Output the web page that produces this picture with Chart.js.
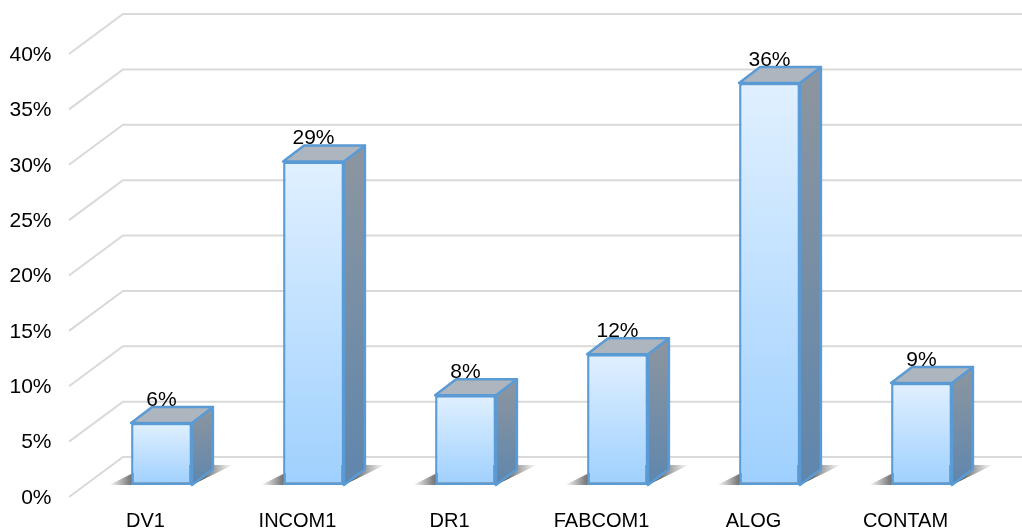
<!DOCTYPE html>
<html>
<head>
<meta charset="utf-8">
<title>Chart</title>
<script src="https://cdn.jsdelivr.net/npm/chart.js@4/dist/chart.umd.min.js"></script>
<style>
    html, body { margin: 0; padding: 0; background: #ffffff; }
    canvas { display: block; }
</style>
</head>
<body>
<canvas id="myChart" width="1022" height="528"></canvas>
<script>
const categories = ["DV1", "INCOM1", "DR1", "FABCOM1", "ALOG", "CONTAM"];
const errorShare = [0.056, 0.292, 0.081, 0.118, 0.363, 0.092];
const tickValues = [0, 0.05, 0.1, 0.15, 0.2, 0.25, 0.3, 0.35, 0.4];

const fontName = "'Liberation Sans', Arial, sans-serif";
const fontSize = 21;
const pct = (v) => Math.round(v * 100) + "%";

// ---------------------- wall and floor lines ----------------------
const wallGrid = {
    id: "wallGrid",
    beforeDatasetsDraw(chart) {
        const c = chart.ctx;
        const y = chart.scales.y;
        c.save();
        c.strokeStyle = "#d9d9d9";
        c.lineWidth = 2;
        tickValues.forEach(v => {
            const p = y.getPixelForValue(v);
            c.beginPath();
            c.moveTo(69, p + 12);
            c.lineTo(123, p - 28);
            c.lineTo(1022, p - 28);
            c.stroke();
        });
        c.restore();
    }
};

// ---------------------- shadow, side and top of each bar ----------------------
const barDepth = {
    id: "barDepth",
    beforeDatasetsDraw(chart) {
        const c = chart.ctx;
        const dx = 21, dy = 16;
        chart.getDatasetMeta(0).data.forEach(bar => {
            const l = bar.x - bar.width / 2;
            const r = bar.x + bar.width / 2;
            const t = bar.y;
            const b = bar.base;

            const sh = c.createLinearGradient(l - 22, 0, r + 41, 0);
            sh.addColorStop(0, "rgba(70,70,70,0)");
            sh.addColorStop(0.2, "rgba(70,70,70,0.85)");
            sh.addColorStop(0.72, "rgba(60,60,60,0.9)");
            sh.addColorStop(1, "rgba(80,80,80,0)");
            c.fillStyle = sh;
            c.beginPath();
            c.moveTo(l - 22, b);
            c.lineTo(r, b);
            c.lineTo(r + 41, b - 20);
            c.lineTo(l + 18, b - 20);
            c.closePath();
            c.fill();

            const side = c.createLinearGradient(0, t - dy, 0, b);
            side.addColorStop(0, "#8d969f");
            side.addColorStop(1, "#5f86ad");
            c.lineWidth = 2.5;
            c.lineJoin = "round";
            c.strokeStyle = "#5b9bd5";
            c.fillStyle = side;
            c.beginPath();
            c.moveTo(r, t);
            c.lineTo(r + dx, t - dy);
            c.lineTo(r + dx, b - dy);
            c.lineTo(r, b);
            c.closePath();
            c.fill();
            c.stroke();

            c.fillStyle = "#adb6bf";
            c.beginPath();
            c.moveTo(l, t);
            c.lineTo(l + dx, t - dy);
            c.lineTo(r + dx, t - dy);
            c.lineTo(r, t);
            c.closePath();
            c.fill();
            c.stroke();
        });
    }
};

// ---------------------- value labels ----------------------
const valueLabels = {
    id: "valueLabels",
    afterDatasetsDraw(chart) {
        const c = chart.ctx;
        c.save();
        c.font = fontSize + "px " + fontName;
        c.fillStyle = "#000000";
        c.textAlign = "center";
        c.textBaseline = "middle";
        chart.getDatasetMeta(0).data.forEach((bar, i) => {
            c.fillText(pct(errorShare[i]), bar.x, bar.y - 23);
        });
        c.restore();
    }
};

const frontGradient = (ctx) => {
    const chart = ctx.chart;
    if (!chart.chartArea || ctx.dataIndex === undefined) return "#c5e0fb";
    const y = chart.scales.y;
    const g = chart.ctx.createLinearGradient(0, y.getPixelForValue(errorShare[ctx.dataIndex]), 0, y.getPixelForValue(0));
    g.addColorStop(0, "#e0f0ff");
    g.addColorStop(1, "#9fd0fe");
    return g;
};

new Chart(document.getElementById("myChart"), {
    type: "bar",
    data: {
        labels: categories,
        datasets: [{
            data: errorShare,
            backgroundColor: frontGradient,
            borderColor: "#5b9bd5",
            borderWidth: 2.5,
            borderSkipped: false,
            barPercentage: 0.4,
            categoryPercentage: 1
        }]
    },
    options: {
        responsive: false,
        animation: false,
        layout: { padding: { top: 42, right: 24.5, left: 0, bottom: 0 } },
        plugins: {
            legend: { display: false },
            tooltip: { enabled: false }
        },
        scales: {
            x: {
                grid: { display: false, drawTicks: false },
                border: { display: false },
                afterFit: (s) => { s.height = 43; s.paddingLeft = 0; s.paddingRight = 0; },
                ticks: {
                    color: "#000000",
                    font: { family: fontName, size: 20 },
                    padding: 24,
                    labelOffset: -16,
                    autoSkip: false,
                    maxRotation: 0
                }
            },
            y: {
                min: 0,
                max: 0.4,
                grid: { display: false, drawTicks: false },
                border: { display: false },
                afterFit: (s) => { s.width = 85.5; s.paddingTop = 0; s.paddingBottom = 0; },
                ticks: {
                    color: "#000000",
                    font: { family: fontName, size: fontSize },
                    stepSize: 0.05,
                    padding: 34,
                    labelOffset: 13,
                    callback: (v) => pct(v)
                }
            }
        }
    },
    plugins: [wallGrid, barDepth, valueLabels]
});
</script>
</body>
</html>
